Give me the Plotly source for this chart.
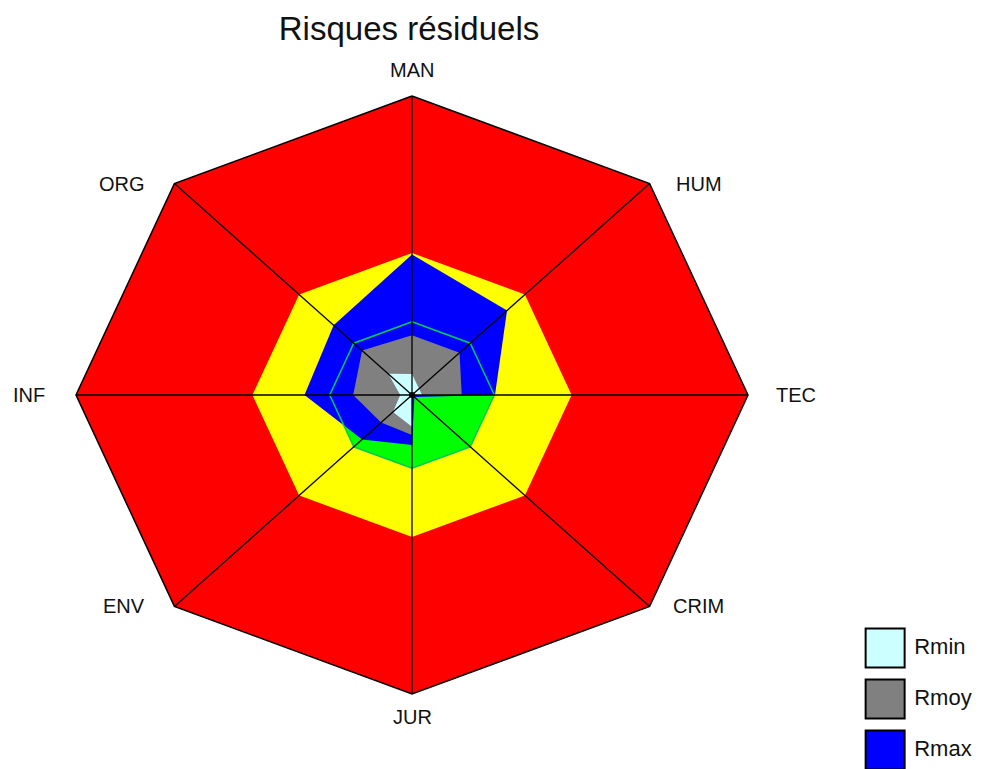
import numpy as np
import plotly.graph_objects as go

# axes of the radar, clockwise from the top
categories = ["MAN", "HUM", "TEC", "CRIM", "JUR", "ENV", "INF", "ORG"]

# background risk zones (same value on every axis)
zone_red = [100, 100, 100, 100, 100, 100, 100, 100]
zone_yellow = [47.5, 47.5, 47.5, 47.5, 47.5, 47.5, 47.5, 47.5]
zone_green = [24.5, 24.5, 24.5, 24.5, 24.5, 24.5, 24.5, 24.5]

# residual risk series
rmax = [47, 40, 24.7, 1, 16.7, 21, 32, 33]
rmoy = [20, 20, 14.8, 0, 13.4, 13, 17.5, 21]
rmin = [7, 3, 3, 0, 10.6, 8, 3.5, 10]

legend_names = ["Rmin", "Rmoy", "Rmax"]
legend_colors = ["#ccffff", "#808080", "#0000ff"]

FONT = "Liberation Sans, Arial, sans-serif"

angles = np.deg2rad(90 - 45 * np.arange(len(categories)))


def to_xy(values):
    r = np.array(values + values[:1], dtype=float)
    a = np.append(angles, angles[0])
    return r * np.cos(a), r * np.sin(a)


fig = go.Figure()


def add_poly(values, fill, line_color=None, line_width=0):
    x, y = to_xy(values)
    fig.add_trace(go.Scatter(
        x=x, y=y, mode="lines", fill="toself", fillcolor=fill,
        line=dict(color=line_color or fill, width=line_width),
        hoverinfo="skip", showlegend=False
    ))


add_poly(zone_red, "#ff0000", "black", 1.5)
add_poly(zone_yellow, "#ffff00")
add_poly(zone_green, "#00ff00")
add_poly(rmax, "#0000ff")
add_poly(rmoy, "#808080")
add_poly(rmin, "#ccffff")

# outline of the green zone stays visible over the series
gx, gy = to_xy(zone_green)
fig.add_trace(go.Scatter(x=gx, y=gy, mode="lines",
                         line=dict(color="#00cc55", width=1.5),
                         hoverinfo="skip", showlegend=False))

# spokes
sx, sy = [], []
for a, r in zip(angles, zone_red):
    sx += [0, r * np.cos(a), None]
    sy += [0, r * np.sin(a), None]
fig.add_trace(go.Scatter(x=sx, y=sy, mode="lines",
                         line=dict(color="black", width=1.3),
                         hoverinfo="skip", showlegend=False))
fig.add_trace(go.Scatter(x=[0], y=[0], mode="markers",
                         marker=dict(color="black", size=6),
                         hoverinfo="skip", showlegend=False))

# axis labels
shifts = {
    "MAN": ("center", 0, 26), "HUM": ("left", 24, 0), "TEC": ("left", 26, 0),
    "CRIM": ("left", 21, 0), "JUR": ("center", 0, -23), "ENV": ("right", -27, 0),
    "INF": ("right", -29, 0), "ORG": ("right", -27, 0),
}
for cat, a, r in zip(categories, angles, zone_red):
    xa, xs, ys = shifts[cat]
    fig.add_annotation(x=r * np.cos(a), y=r * np.sin(a), text=cat,
                       showarrow=False, xanchor=xa, yanchor="middle",
                       xshift=xs, yshift=ys,
                       font=dict(family=FONT, size=20, color="#111111"))

# legend boxes
idx = list(range(len(legend_names)))[::-1]
fig.add_trace(go.Scatter(
    x=[0.25] * 3, y=idx, mode="markers", xaxis="x2", yaxis="y2",
    marker=dict(symbol="square", size=39, color=legend_colors,
                line=dict(color="black", width=2)),
    hoverinfo="skip", showlegend=False
))
fig.add_trace(go.Scatter(
    x=[0.46] * 3, y=idx, mode="text", text=legend_names,
    textposition="middle right", xaxis="x2", yaxis="y2",
    textfont=dict(family=FONT, size=22, color="#111111"),
    hoverinfo="skip", showlegend=False
))

# page body adds an 8px offset, so positions are set 8px up/left
W, H = 989, 769
cx, cy, rx, ry = 404, 387, 3.36, 2.99
xmin = -cx / rx
ymax = cy / ry
noax = dict(showgrid=False, zeroline=False, showticklabels=False,
            showline=False, fixedrange=True)

fig.update_layout(
    width=W, height=H,
    margin=dict(l=0, r=0, t=0, b=0),
    paper_bgcolor="white", plot_bgcolor="white",
    title=dict(text="Risques résiduels", x=401 / W, xanchor="center",
               y=1 - 20 / H, yanchor="middle",
               font=dict(family=FONT, size=33, color="#111111")),
    xaxis=dict(range=[xmin, xmin + W / rx], domain=[0, 1], **noax),
    yaxis=dict(range=[ymax - H / ry, ymax], domain=[0, 1], **noax),
    xaxis2=dict(range=[0, 1], domain=[842.5 / W, 842.5 / W + 138.5 / W], anchor="y2", **noax),
    yaxis2=dict(range=[-27 / 51, 130 / 51], domain=[0, 157 / H], anchor="x2", **noax),
    showlegend=False,
)

fig.write_html("out.html")
